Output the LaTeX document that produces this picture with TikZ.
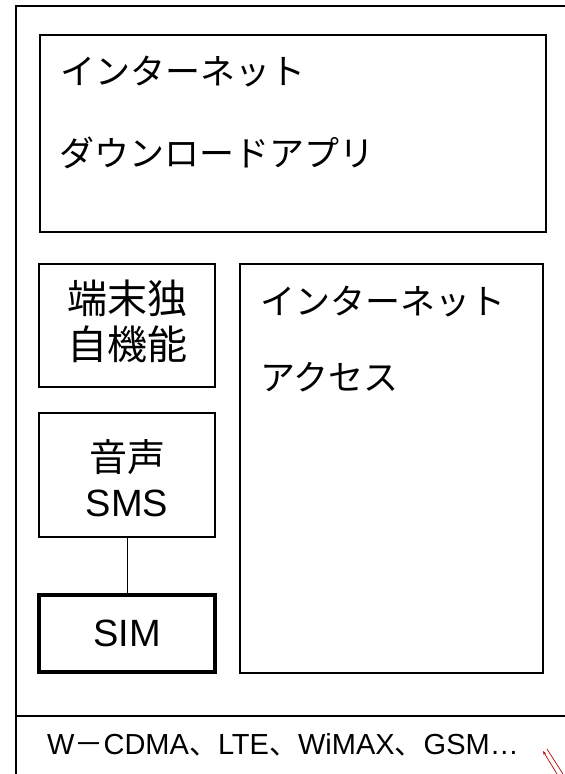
\documentclass[tikz,border=0pt]{standalone}
\usepackage{fontspec}
\setmainfont{Liberation Sans}
\newfontfamily\jp{Noto Sans CJK JP}
\usetikzlibrary{arrows.meta}
\tikzset{
  box/.style={draw=black, rectangle, inner sep=0pt},
  lbl/.style={inner sep=0pt, anchor=west, font=\jp\fontsize{35}{40}\selectfont},
  ctr/.style={inner sep=0pt, align=center},
}
\begin{document}
\begin{tikzpicture}[x=1pt,y=-1pt]
\useasboundingbox (0,0) rectangle (565,774);
% outer frame
\coordinate (otr) at (565,6);
\coordinate (otl) at (16,6);
\coordinate (obl) at (16,774);
\coordinate (dl) at (16,716);
\coordinate (dr) at (565,716);
\draw[line width=2pt] (otr) -- (otl) -- (obl);
\draw[line width=2pt] (dl) -- (dr);
% top box
\node[box, line width=2pt, minimum width=506pt, minimum height=197pt] (top) at (293,133.5) {};
\node[lbl] (t1) at (60,72) {インターネット};
\node[lbl] (t2) at (59,153) {ダウンロードアプリ};
% right box
\node[box, line width=1.6pt, minimum width=303pt, minimum height=409pt] (acc) at (391.5,468.5) {};
\node[lbl] (a1) at (260,302) {インターネット};
\node[lbl] (a2) at (260,377) {アクセス};
% left boxes
\node[box, line width=1.6pt, minimum width=176pt, minimum height=123pt] (own) at (127,325.5) {};
\node[ctr, font=\jp\fontsize{40}{46}\selectfont] (ownt) at (127,321) {端末独\\自機能};
\node[box, line width=1.1pt, minimum width=176pt, minimum height=124pt] (voice) at (127,475) {};
\node[ctr, font=\fontsize{38}{45}\selectfont] (voicet) at (127,478) {{\jp 音声}\\SMS};
\node[box, line width=3.5pt, minimum width=176pt, minimum height=77pt] (sim) at (127,633.5) {};
\node[ctr, font=\fontsize{38}{45}\selectfont] (simt) at (127,633.5) {SIM};
\draw[line width=1pt] (voice.south) -- (sim.north);
% bottom text
\node[ctr, font=\fontsize{29}{34}\selectfont] (bt) at (283,745) {W{\jp －}CDMA{\jp 、}LTE{\jp 、}WiMAX{\jp 、}GSM…};
% red mark
\coordinate (r1a) at (543,751);
\coordinate (r1b) at (557,774);
\coordinate (r2a) at (547,749);
\coordinate (r2b) at (563,774);
\draw[red!75!black, line width=0.7pt, {Stealth[length=4pt,width=3pt]}-] (r1a) -- (r1b);
\draw[red!75!black, line width=0.7pt] (r2a) -- (r2b);
\end{tikzpicture}
\end{document}
